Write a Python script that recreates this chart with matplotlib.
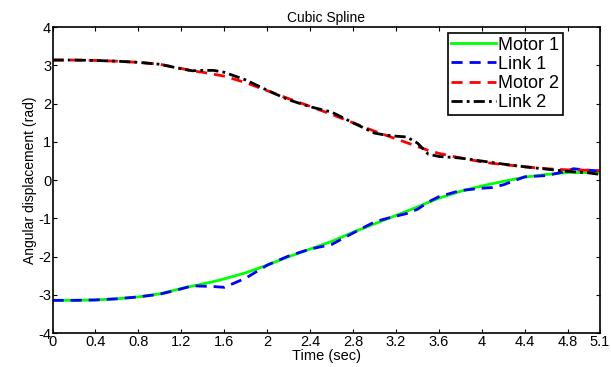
import numpy as np
import matplotlib.pyplot as plt

plt.rcParams['font.family'] = ['Liberation Sans', 'DejaVu Sans']
plt.rcParams['axes.unicode_minus'] = False

# time samples (sec)
t = [0, 0.2, 0.4, 0.6, 0.8, 1.0, 1.2, 1.3, 1.4, 1.5, 1.6, 1.8, 2.0, 2.2, 2.4, 2.6,
     2.8, 3.0, 3.1, 3.2, 3.3, 3.4, 3.5, 3.6, 3.8, 4.0, 4.1, 4.2, 4.4, 4.6, 4.8, 4.85,
     5.0, 5.1]

motor1 = [-3.14, -3.14, -3.13, -3.10, -3.05, -2.97, -2.83, -2.77, -2.71, -2.65, -2.58,
          -2.42, -2.22, -2.00, -1.80, -1.60, -1.36, -1.14, -1.03, -0.92, -0.81, -0.70,
          -0.58, -0.47, -0.29, -0.15, -0.09, -0.03, 0.08, 0.15, 0.20, 0.20, 0.20, 0.18]
link1 = [-3.14, -3.14, -3.13, -3.10, -3.05, -2.98, -2.84, -2.76, -2.77, -2.78, -2.80,
         -2.56, -2.22, -1.98, -1.80, -1.68, -1.38, -1.09, -1.01, -0.94, -0.87, -0.76,
         -0.57, -0.43, -0.27, -0.21, -0.19, -0.12, 0.09, 0.12, 0.24, 0.30, 0.26, 0.24]
motor2 = [3.14, 3.14, 3.13, 3.11, 3.08, 3.03, 2.92, 2.86, 2.82, 2.77, 2.72,
          2.55, 2.34, 2.13, 1.93, 1.72, 1.50, 1.28, 1.18, 1.08, 0.98, 0.88,
          0.78, 0.70, 0.58, 0.48, 0.44, 0.41, 0.35, 0.30, 0.27, 0.27, 0.26, 0.25]
link2 = [3.14, 3.14, 3.13, 3.11, 3.08, 3.03, 2.91, 2.86, 2.87, 2.87, 2.82,
         2.62, 2.35, 2.10, 1.92, 1.78, 1.50, 1.23, 1.18, 1.15, 1.13, 0.97,
         0.68, 0.62, 0.58, 0.50, 0.46, 0.42, 0.35, 0.29, 0.23, 0.22, 0.19, 0.15]

xticks = [0, 0.4, 0.8, 1.2, 1.6, 2, 2.4, 2.8, 3.2, 3.6, 4, 4.4, 4.8, 5.1]
xticklabels = ['0', '0.4', '0.8', '1.2', '1.6', '2', '2.4', '2.8', '3.2', '3.6', '4',
               '4.4', '4.8', '5.1']

fig = plt.figure(figsize=(6.11, 3.67), dpi=100)
ax = fig.add_axes([0.086, 0.092, 0.896, 0.834])

ax.plot(t, motor1, color='#00ff00', lw=2, ls='-', label='Motor 1')
ax.plot(t, link1, color='#0000ff', lw=2, ls=(0, (4, 2.5)), label='Link 1')
ax.plot(t, motor2, color='#ff0000', lw=2, ls=(0, (4, 2.5)), label='Motor 2')
ax.plot(t, link2, color='black', lw=2, ls=(0, (4, 1.5, 1, 1.5)), label='Link 2')

ax.set_xlim(0, 5.1)
ax.set_ylim(-4, 4)
ax.set_xticks(xticks)
ax.set_xticklabels(xticklabels)
ax.set_yticks(range(-4, 5))
ax.tick_params(direction='in', top=True, right=True, labelsize=10.5, pad=1, length=3)
for s in ax.spines.values():
    s.set_linewidth(1.2)

ax.set_title('Cubic Spline', fontsize=10, pad=4)
ax.set_xlabel('Time (sec)', fontsize=10.5, labelpad=0.5)
ax.set_ylabel('Angular displacement (rad)', fontsize=10, labelpad=1)

leg = ax.legend(loc='upper right', bbox_to_anchor=(0.932, 0.981), fontsize=13,
                frameon=True, fancybox=False, edgecolor='black', framealpha=1,
                borderpad=0.2, labelspacing=0.12, handlelength=2.5, handletextpad=0.1,
                borderaxespad=0)
leg.get_frame().set_linewidth(1.2)

plt.savefig('out.png', dpi=100)
